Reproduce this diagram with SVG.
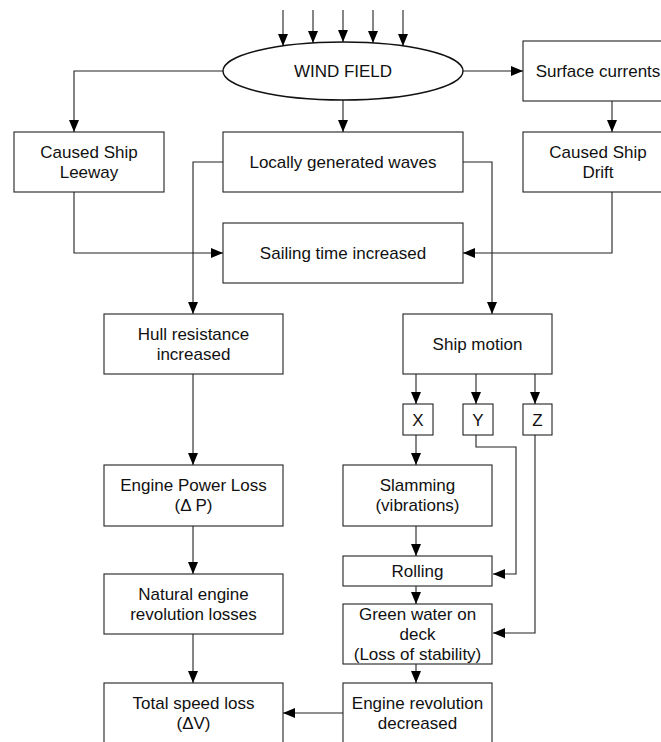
<svg xmlns="http://www.w3.org/2000/svg" width="661" height="742" viewBox="0 0 661 742">
<style>
.box{fill:#fff;stroke:#222;stroke-width:1.1}
.ell{fill:#fff;stroke:#111;stroke-width:1.4}
.c{fill:none;stroke:#222;stroke-width:1.1;marker-end:url(#ah)}
text{font-family:"Liberation Sans",Arial,sans-serif;font-size:17px;fill:#111;text-anchor:middle}
</style>
<defs>
<marker id="ah" markerUnits="userSpaceOnUse" markerWidth="12" markerHeight="10" refX="12" refY="5" orient="auto">
<path d="M0,0 L12,5 L0,10 z" fill="#000"/>
</marker>
</defs>
<rect width="661" height="742" fill="#fff"/>
<g id="connectors">
<path class="c" d="M283,10 V46"/>
<path class="c" d="M313,10 V43"/>
<path class="c" d="M343,10 V42"/>
<path class="c" d="M373,10 V43"/>
<path class="c" d="M403,10 V46"/>
<path class="c" d="M223,71 H74 V132"/>
<path class="c" d="M463,71 H523"/>
<path class="c" d="M343,100 V132"/>
<path class="c" d="M612,101 V132"/>
<path class="c" d="M74,192 V253 H223"/>
<path class="c" d="M612,192 V253 H463"/>
<path class="c" d="M223,162 H193 V314"/>
<path class="c" d="M463,162 H492 V314"/>
<path class="c" d="M416,374 V404"/>
<path class="c" d="M476,374 V404"/>
<path class="c" d="M535,374 V404"/>
<path class="c" d="M416,435 V465"/>
<path class="c" d="M476,435 V447 H516 V574 H493"/>
<path class="c" d="M535,435 V633 H493"/>
<path class="c" d="M416,526 V556"/>
<path class="c" d="M416,586 V604"/>
<path class="c" d="M416,664 V683"/>
<path class="c" d="M343,713 H283"/>
<path class="c" d="M193,374 V465"/>
<path class="c" d="M193,526 V574"/>
<path class="c" d="M193,634 V683"/>
</g>
<g id="wind-field"><ellipse class="ell" cx="343" cy="71" rx="120" ry="29"/><text x="343" y="77">WIND FIELD</text></g>
<g id="surface-currents"><rect class="box" x="523" y="41" width="150" height="60"/><text x="598" y="77">Surface currents</text></g>
<g id="leeway"><rect class="box" x="14" y="132" width="150" height="60"/><text x="89" y="157.5">Caused Ship</text><text x="89" y="177.5">Leeway</text></g>
<g id="waves"><rect class="box" x="223" y="132" width="240" height="60"/><text x="343" y="167.5">Locally generated waves</text></g>
<g id="drift"><rect class="box" x="523" y="132" width="150" height="60"/><text x="598" y="157.5">Caused Ship</text><text x="598" y="177.5">Drift</text></g>
<g id="sailing"><rect class="box" x="223" y="223" width="240" height="60"/><text x="343" y="258.5">Sailing time increased</text></g>
<g id="hull"><rect class="box" x="104" y="314" width="179" height="60"/><text x="193.5" y="339.5">Hull resistance</text><text x="193.5" y="359.5">increased</text></g>
<g id="ship-motion"><rect class="box" x="403" y="314" width="149" height="60"/><text x="477.5" y="349.5">Ship motion</text></g>
<g id="x"><rect class="box" x="403" y="404" width="30" height="31"/><text x="418" y="425.5">X</text></g>
<g id="y"><rect class="box" x="463" y="404" width="30" height="31"/><text x="478" y="425.5">Y</text></g>
<g id="z"><rect class="box" x="523" y="404" width="29" height="31"/><text x="537.5" y="425.5">Z</text></g>
<g id="slamming"><rect class="box" x="343" y="465" width="149" height="61"/><text x="417.5" y="491">Slamming</text><text x="417.5" y="511">(vibrations)</text></g>
<g id="rolling"><rect class="box" x="343" y="556" width="149" height="30"/><text x="417.5" y="577">Rolling</text></g>
<g id="green-water"><rect class="box" x="343" y="604" width="149" height="60"/><text x="417.5" y="620">Green water on</text><text x="417.5" y="640">deck</text><text x="417.5" y="660">(Loss of stability)</text></g>
<g id="engine-rev"><rect class="box" x="343" y="683" width="149" height="70"/><text x="417.5" y="708.5">Engine revolution</text><text x="417.5" y="728.5">decreased</text></g>
<g id="engine-power"><rect class="box" x="104" y="465" width="179" height="61"/><text x="193.5" y="491">Engine Power Loss</text><text x="193.5" y="511">(Δ P)</text></g>
<g id="natural"><rect class="box" x="104" y="574" width="179" height="60"/><text x="193.5" y="599.5">Natural engine</text><text x="193.5" y="619.5">revolution losses</text></g>
<g id="total"><rect class="box" x="104" y="683" width="179" height="70"/><text x="193.5" y="708.5">Total speed loss</text><text x="193.5" y="728.5">(ΔV)</text></g>
</svg>
